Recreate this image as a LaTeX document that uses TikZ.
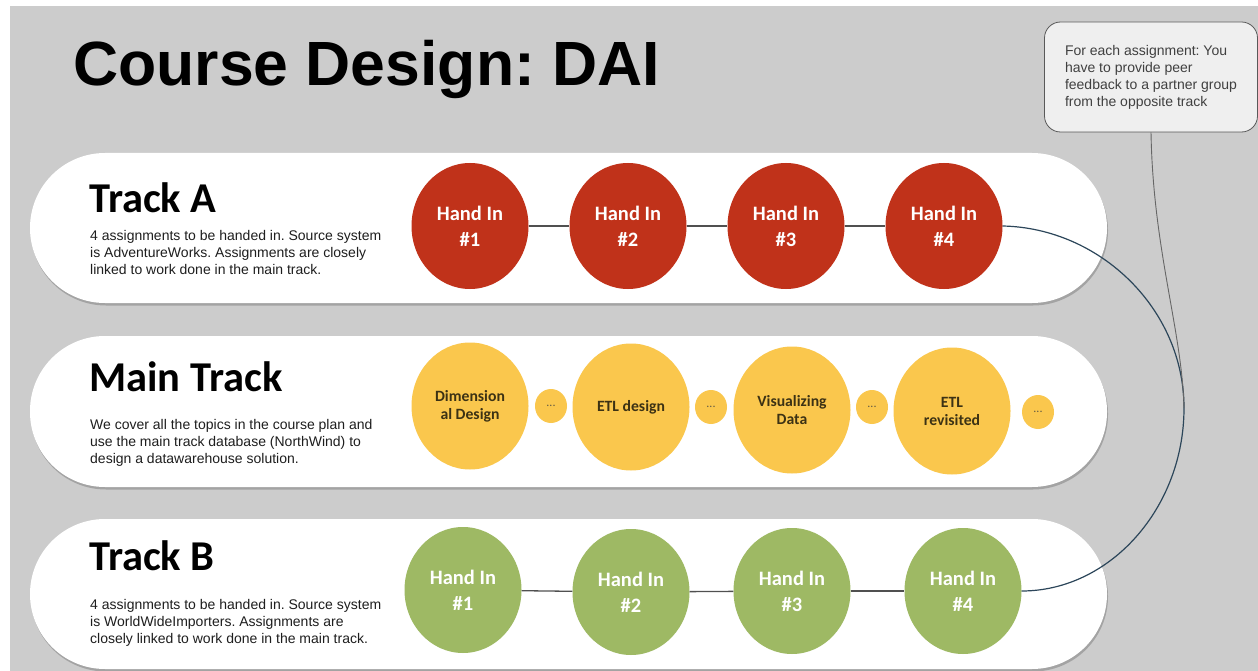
\documentclass[tikz,border=0pt]{standalone}
\usepackage{fontspec}
\setmainfont{Liberation Sans}
\newfontfamily\calibri{Carlito}
\usepackage{tikz}
\usetikzlibrary{shapes.geometric, shadows}
\frenchspacing
\definecolor{bggray}{RGB}{204, 204, 204}
\definecolor{handred}{RGB}{192, 50, 26}
\definecolor{handgreen}{RGB}{158, 185, 100}
\definecolor{topicyellow}{RGB}{250, 199, 77}
\definecolor{topictext}{RGB}{60, 50, 20}
\definecolor{textgray}{RGB}{30, 30, 30}
\definecolor{linkgray}{RGB}{80, 80, 80}
\definecolor{linkblue}{RGB}{44, 70, 90}
\definecolor{notefill}{RGB}{239, 239, 239}

\begin{document}
\begin{tikzpicture}[x=1pt, y=-1pt, node distance=158pt]
\tikzstyle{band} = [rectangle, rounded corners=75pt, minimum width=1077pt, minimum height=150pt, fill=white, drop shadow={shadow xshift=1pt, shadow yshift=-2.5pt, opacity=0.2, fill=black}]
\tikzstyle{tracktitle} = [anchor=base west, inner sep=0pt, font=\calibri\bfseries\fontsize{42.5}{48}\selectfont]
\tikzstyle{desc} = [anchor=north west, inner sep=0pt, align=left, text=textgray, font=\fontsize{14}{17}\selectfont]
\tikzstyle{handin} = [ellipse, minimum width=117pt, minimum height=126pt, inner sep=0pt, align=center, text=white, font=\calibri\bfseries\fontsize{20.5}{26}\selectfont]
\tikzstyle{topic} = [ellipse, minimum width=117pt, minimum height=127pt, inner sep=0pt, align=center, fill=topicyellow, text=topictext, font=\calibri\bfseries\fontsize{15.7}{18}\selectfont]
\tikzstyle{more} = [ellipse, minimum width=32pt, minimum height=34pt, inner sep=0pt, fill=topicyellow, text=topictext!80, font=\calibri\fontsize{12}{12}\selectfont]
\tikzstyle{link} = [line width=1.3pt, draw=linkgray]
\tikzstyle{note} = [rectangle, rounded corners=16pt, minimum width=213pt, minimum height=110pt, fill=notefill, draw=black!65, line width=0.8pt, align=left, text=black!75, font=\fontsize{14}{17}\selectfont]

\useasboundingbox (0,0) rectangle (1258,671);
\fill[bggray] (10,6) rectangle (1258,671);

\node (title) [anchor=base west, inner sep=0pt, font=\bfseries\fontsize{62.5}{70}\selectfont] at (73,86) {Course Design: DAI};

\node (bandA) [band] at (568.5,228) {};
\node (bandM) [band, minimum height=151pt] at (568.5,411.5) {};
\node (bandB) [band] at (568.5,594) {};

\node (trackA) [tracktitle] at (89,212) {Track A};
\node (descA) [desc] at (90,230.5) {4 assignments to be handed in. Source system\\is AdventureWorks. Assignments are closely\\linked to work done in the main track.};
\node (trackM) [tracktitle] at (89,391) {Main Track};
\node (descM) [desc] at (90,419.5) {We cover all the topics in the course plan and\\use the main track database (NorthWind) to\\design a datawarehouse solution.};
\node (trackB) [tracktitle] at (89,570) {Track B};
\node (descB) [desc] at (90,599.5) {4 assignments to be handed in. Source system\\is WorldWideImporters. Assignments are\\closely linked to work done in the main track.};

\node (a1) [handin, fill=handred] at (470,226) {Hand In\\\#1};
\node (a2) [handin, fill=handred, right of=a1] {Hand In\\\#2};
\node (a3) [handin, fill=handred, right of=a2] {Hand In\\\#3};
\node (a4) [handin, fill=handred, right of=a3] {Hand In\\\#4};

\node (m1) [topic] at (470,406) {Dimension\\al Design};
\node (d1) [more] at (551,406) {...};
\node (m2) [topic] at (631,407) {ETL design};
\node (d2) [more] at (711,407) {...};
\node (m3) [topic] at (792,410) {Visualizing\\Data};
\node (d3) [more] at (872,407) {...};
\node (m4) [topic] at (952,411) {ETL\\revisited};
\node (d4) [more] at (1038,412) {...};

\node (b1) [handin, fill=handgreen] at (463,590) {Hand In\\\#1};
\node (b2) [handin, fill=handgreen] at (631,592) {Hand In\\\#2};
\node (b3) [handin, fill=handgreen] at (792,591) {Hand In\\\#3};
\node (b4) [handin, fill=handgreen] at (963,591) {Hand In\\\#4};

\draw [link] (a1) -- (a2);
\draw [link] (a2) -- (a3);
\draw [link] (a3) -- (a4);
\draw [link] (b1) -- (b2);
\draw [link] (b2) -- (b3);
\draw [link] (b3) -- (b4);

\node (note) [note] at (1151,77) {For each assignment: You\\have to provide peer\\feedback to a partner group\\from the opposite track};
\coordinate (meet) at (1184,408);

\draw [linkblue, line width=1.2pt] (a4.east) .. controls (1100,228) and (1184,309) .. (meet) .. controls (1184,508) and (1110,591) .. (b4.east);
\draw [black!60, line width=0.9pt] (note.south) .. controls (1153,250) and (1182,330) .. (meet);
\end{tikzpicture}
\end{document}
